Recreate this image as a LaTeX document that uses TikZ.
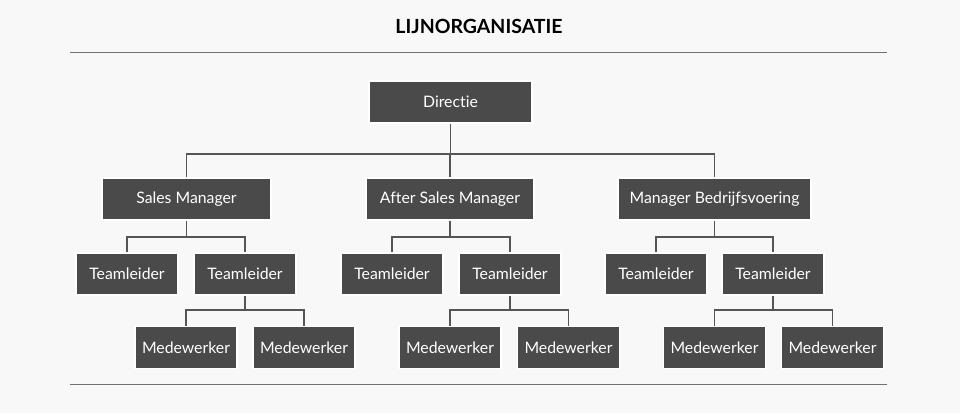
\documentclass[tikz,border=0pt]{standalone}
\usepackage{fontspec}
\setmainfont[Ligatures=NoCommon]{Lato}
\begin{document}
\begin{tikzpicture}[x=1pt,y=-1pt,
  box/.style={fill=boxgray, draw=white, line width=1.5pt, text=white, inner sep=0pt, minimum height=42pt, font=\fontsize{15.8}{18}\selectfont},
  small/.style={box, minimum width=102pt},
  conn/.style={draw=linegray, line width=1.3pt},
  rule/.style={draw=rulegray, line width=1pt}]
\definecolor{boxgray}{HTML}{4A4A4A}
\definecolor{linegray}{HTML}{555555}
\definecolor{rulegray}{HTML}{707070}
\definecolor{bg}{HTML}{F8F8F8}
\fill[bg] (0,0) rectangle (960,413);
\useasboundingbox (0,0) rectangle (960,413);
\node[font=\bfseries\fontsize{19.5}{22}\selectfont, text=black] (title) at (479,26) {LIJNORGANISATIE};
\coordinate (r1a) at (70,52); \coordinate (r1b) at (887,52);
\coordinate (r2a) at (70,384); \coordinate (r2b) at (887,384);
\draw[rule] (r1a) -- (r1b);
\draw[rule] (r2a) -- (r2b);
% nodes
\node[box, minimum width=163pt] (dir) at (450.5,102) {Directie};
\node[box, minimum width=169pt] (sm) at (186.5,199) {Sales Manager};
\node[box, minimum width=168pt] (asm) at (450,199) {After Sales Manager};
\node[box, minimum width=193pt] (mb) at (714.5,199) {Manager Bedrijfsvoering};
\node[small] (t1) at (127,274) {Teamleider};
\node[small] (t2) at (245,274) {Teamleider};
\node[small] (t3) at (392,274) {Teamleider};
\node[small] (t4) at (510,274) {Teamleider};
\node[small] (t5) at (656,274) {Teamleider};
\node[small] (t6) at (773,274) {Teamleider};
\node[small] (m1) at (186,347.5) {Medewerker};
\node[small] (m2) at (304,347.5) {Medewerker};
\node[small] (m3) at (450,347.5) {Medewerker};
\node[small] (m4) at (568.5,347.5) {Medewerker};
\node[small] (m5) at (714.5,347.5) {Medewerker};
\node[small] (m6) at (832.5,347.5) {Medewerker};
% connectors
\draw[conn] (dir.south) -- ++(0,31);
\draw[conn] (sm.north) |- (450.5,154) -| (mb.north);
\draw[conn] (asm.north) -- (asm.north |- 0,154);
\draw[conn] (sm.south) -- ++(0,17);
\draw[conn] (t1.north) |- (sm.south |- 0,237) -| (t2.north);
\draw[conn] (asm.south) -- ++(0,17);
\draw[conn] (t3.north) |- (asm.south |- 0,237) -| (t4.north);
\draw[conn] (mb.south) -- ++(0,17);
\draw[conn] (t5.north) |- (mb.south |- 0,237) -| (t6.north);
\draw[conn] (t2.south) -- ++(0,15);
\draw[conn] (m1.north) |- (t2.south |- 0,310) -| (m2.north);
\draw[conn] (t4.south) -- ++(0,15);
\draw[conn] (m3.north) |- (t4.south |- 0,310) -| (m4.north);
\draw[conn] (t6.south) -- ++(0,15);
\draw[conn] (m5.north) |- (t6.south |- 0,310) -| (m6.north);
\end{tikzpicture}
\end{document}
